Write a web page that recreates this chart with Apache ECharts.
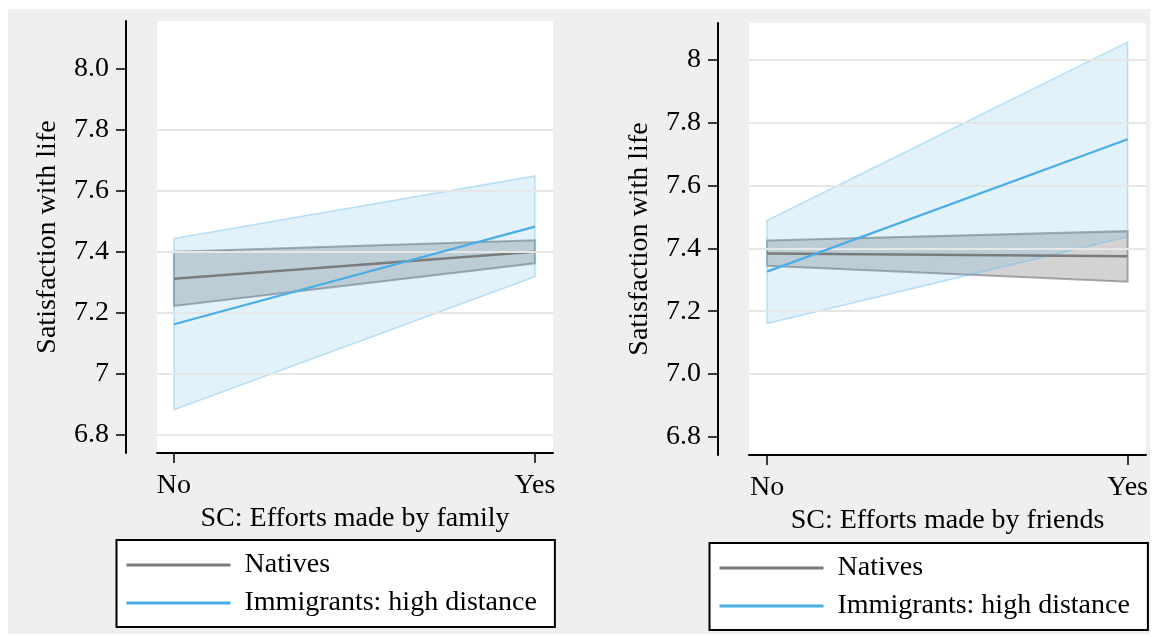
<!DOCTYPE html>
<html>
<head>
<meta charset="utf-8">
<script src="https://cdn.jsdelivr.net/npm/echarts@6/dist/echarts.min.js"></script>
<style>
  html, body { margin: 0; padding: 0; background: #ffffff; }
  #bg { position: absolute; left: 8px; top: 9px; width: 1142px; height: 625px; background: #efefef; }
  #chart { position: absolute; left: 0; top: 0; width: 1153px; height: 637px; }
</style>
</head>
<body>
<div id="bg"></div>
<div id="chart"></div>
<script>
// ---- data ----
const categories = ['No', 'Yes'];
const seriesNames = ['Natives', 'Immigrants: high distance'];

// Panel 1: SC: Efforts made by family
const familyNativesMid = [7.312, 7.401];
const familyNativesLo  = [7.223, 7.363];
const familyNativesHi  = [7.401, 7.438];
const familyImmMid     = [7.163, 7.483];
const familyImmLo      = [6.883, 7.319];
const familyImmHi      = [7.444, 7.649];

// Panel 2: SC: Efforts made by friends
const friendsNativesMid = [7.384, 7.375];
const friendsNativesLo  = [7.345, 7.294];
const friendsNativesHi  = [7.425, 7.455];
const friendsImmMid     = [7.326, 7.748];
const friendsImmLo      = [7.161, 7.437];
const friendsImmHi      = [7.489, 8.057];

const yTickValues = [6.8, 7.0, 7.2, 7.4, 7.6, 7.8, 8.0];
const leftTickLabels  = ['6.8', '7', '7.2', '7.4', '7.6', '7.8', '8.0'];
const rightTickLabels = ['6.8', '7.0', '7.2', '7.4', '7.6', '7.8', '8'];
const leftGridValues  = [6.8, 7.0, 7.2, 7.4, 7.6, 7.8];   // panel 1 has no grid line at 8.0
const rightGridValues = [7.0, 7.2, 7.4, 7.6, 7.8, 8.0];   // panel 2 has no grid line at 6.8
const xTitles = ['SC: Efforts made by family', 'SC: Efforts made by friends'];
const yTitle = 'Satisfaction with life';

// ---- styling ----
const FONT = 'Liberation Serif';
const FS = 28;
const GRAY_LINE = '#7b7b7b';
const BLUE_LINE = '#4aade6';

const chart = echarts.init(document.getElementById('chart'), null, { renderer: 'canvas' });

const xIdx = categories.map((c, i) => i);

function linePts(vals) { return xIdx.map(i => [i, vals[i]]); }

function gridLineSeries(gridIdx, values) {
  return {
    type: 'line', xAxisIndex: gridIdx, yAxisIndex: gridIdx, data: [], z: 1, silent: true,
    markLine: {
      silent: true, symbol: 'none', animation: false,
      label: { show: false },
      emphasis: { disabled: true },
      lineStyle: { color: '#e6e6e6', width: 2, type: 'solid' },
      data: values.map(v => ({ yAxis: v }))
    }
  };
}

function bandSeries(gridIdx, lo, hi, fill, stroke, lw, z) {
  return {
    type: 'custom',
    xAxisIndex: gridIdx, yAxisIndex: gridIdx,
    z: z, silent: true,
    data: xIdx.map(i => [i, lo[i], hi[i]]),
    encode: { x: 0, y: [1, 2] },
    renderItem: function (params, api) {
      if (params.dataIndex !== 0) return null;
      const pts = [];
      xIdx.forEach(i => pts.push(api.coord([i, hi[i]])));
      for (let k = xIdx.length - 1; k >= 0; k--) pts.push(api.coord([xIdx[k], lo[xIdx[k]]]));
      return {
        type: 'polygon',
        shape: { points: pts },
        style: { fill: fill, stroke: stroke, lineWidth: lw }
      };
    }
  };
}

function lineSeries(gridIdx, name, vals, color, width, z) {
  return {
    type: 'line', name: name,
    xAxisIndex: gridIdx, yAxisIndex: gridIdx,
    data: linePts(vals), showSymbol: false, symbol: 'none', z: z,
    color: color,
    itemStyle: { color: color },
    lineStyle: { color: color, width: width },
    emphasis: { disabled: true }
  };
}

function xAxis(gridIdx, min, max, title) {
  return {
    type: 'value', gridIndex: gridIdx, min: min, max: max,
    name: title, nameLocation: 'middle', nameGap: 40,
    nameTextStyle: { fontFamily: FONT, fontSize: FS, color: '#000' },
    axisLine: { show: true, onZero: false, lineStyle: { color: '#000', width: 2 } },
    axisTick: { show: true, length: 10, customValues: xIdx, lineStyle: { color: '#000', width: 1.5 } },
    axisLabel: { show: true, customValues: xIdx, margin: 19, fontFamily: FONT, fontSize: FS, color: '#000',
      formatter: v => categories[Math.round(v)] },
    splitLine: { show: false }
  };
}

function yAxis(gridIdx, min, max, labels) {
  return {
    type: 'value', gridIndex: gridIdx, min: min, max: max, offset: 31,
    name: yTitle, nameLocation: 'middle', nameRotate: 90, nameGap: 64,
    nameTextStyle: { fontFamily: FONT, fontSize: FS, color: '#000' },
    axisLine: { show: true, onZero: false, lineStyle: { color: '#000', width: 2 } },
    axisTick: { show: true, length: 10, customValues: yTickValues, lineStyle: { color: '#000', width: 1.5 } },
    axisLabel: { show: true, customValues: yTickValues, margin: 17, fontFamily: FONT, fontSize: FS, color: '#000',
      formatter: v => { const k = yTickValues.findIndex(t => Math.abs(t - v) < 1e-6); return k >= 0 ? labels[k] : ''; } },
    splitLine: { show: false }
  };
}

const legendBase = {
  orient: 'vertical', icon: 'rect', itemWidth: 104, itemHeight: 3, itemGap: 8,
  backgroundColor: '#ffffff', borderColor: '#000', borderWidth: 2, borderRadius: 0,
  padding: [10, 18, 9, 10], selectedMode: false,
  textStyle: { fontFamily: FONT, fontSize: FS, color: '#000', lineHeight: 30, padding: [0, 0, 0, 9] },
  data: seriesNames
};

const option = {
  backgroundColor: 'transparent',
  animation: false,
  grid: [
    { left: 157, top: 21, width: 396, height: 432, show: true, backgroundColor: '#ffffff', borderWidth: 0, containLabel: false, outerBoundsMode: 'none' },
    { left: 749, top: 23, width: 397, height: 432, show: true, backgroundColor: '#ffffff', borderWidth: 0, containLabel: false, outerBoundsMode: 'none' }
  ],
  xAxis: [
    xAxis(0, -0.047, 1.05, xTitles[0]),
    xAxis(1, -0.05, 1.051, xTitles[1])
  ],
  yAxis: [
    yAxis(0, 6.741, 8.157, leftTickLabels),
    yAxis(1, 6.742, 8.118, rightTickLabels)
  ],
  legend: [
    Object.assign({}, legendBase, { left: 116.5, top: 540 }),
    Object.assign({}, legendBase, { left: 709.5, top: 543 })
  ],
  series: [
    gridLineSeries(0, leftGridValues),
    bandSeries(0, familyNativesLo, familyNativesHi, 'rgba(120,120,120,0.33)', 'rgba(105,105,105,0.55)', 2, 2),
    bandSeries(0, familyImmLo, familyImmHi, 'rgba(77,174,232,0.16)', 'rgba(110,190,238,0.45)', 1.5, 3),
    lineSeries(0, seriesNames[0], familyNativesMid, GRAY_LINE, 2.5, 4),
    lineSeries(0, seriesNames[1], familyImmMid, BLUE_LINE, 2.2, 5),
    gridLineSeries(1, rightGridValues),
    bandSeries(1, friendsNativesLo, friendsNativesHi, 'rgba(120,120,120,0.33)', 'rgba(105,105,105,0.55)', 2, 2),
    bandSeries(1, friendsImmLo, friendsImmHi, 'rgba(77,174,232,0.16)', 'rgba(110,190,238,0.45)', 1.5, 3),
    lineSeries(1, seriesNames[0], friendsNativesMid, GRAY_LINE, 2.5, 4),
    lineSeries(1, seriesNames[1], friendsImmMid, BLUE_LINE, 2.2, 5)
  ]
};

chart.setOption(option);
</script>
</body>
</html>
